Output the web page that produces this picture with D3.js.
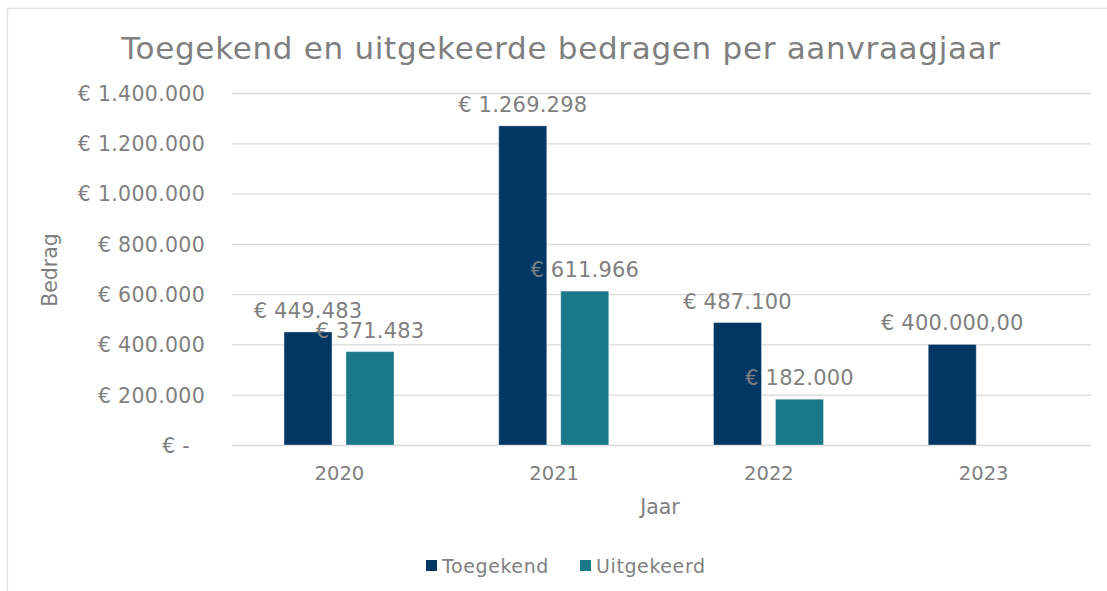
<!DOCTYPE html>
<html>
<head>
<meta charset="utf-8">
<script src="https://cdn.jsdelivr.net/npm/d3@7"></script>
<style>
  html, body { margin: 0; padding: 0; background: #fff; }
  svg { display: block; }
  text { font-family: "DejaVu Sans", Verdana, sans-serif; fill: #7f7f7f; }
</style>
</head>
<body>
<svg id="chart" width="1107" height="591"></svg>
<script>
const categories = ["2020", "2021", "2022", "2023"];
const seriesNames = ["Toegekend", "Uitgekeerd"];
const toegekend = [449483, 1269298, 487100, 400000];
const uitgekeerd = [371483, 611966, 182000, null];
const toegekendLabels = ["€ 449.483", "€ 1.269.298", "€ 487.100", "€ 400.000,00"];
const uitgekeerdLabels = ["€ 371.483", "€ 611.966", "€ 182.000", ""];
const yTicks = [0, 200000, 400000, 600000, 800000, 1000000, 1200000, 1400000];
const yTickLabels = ["€ -", "€ 200.000", "€ 400.000", "€ 600.000", "€ 800.000", "€ 1.000.000", "€ 1.200.000", "€ 1.400.000"];
const colors = ["#023764", "#1b788a"];

const svg = d3.select("#chart");

// chart border
svg.append("rect").attr("x", 7.5).attr("y", 8.5).attr("width", 1107).attr("height", 600)
  .attr("fill", "none").attr("stroke", "#e3e3e3").attr("stroke-width", 1.5);

const plot = { left: 232, right: 1091, top: 93, bottom: 445 };

const y = d3.scaleLinear().domain([0, 1400000]).range([plot.bottom, plot.top]);
const x = d3.scaleBand().domain(categories).range([plot.left, plot.right]).paddingInner(0).paddingOuter(0);
const xSub = d3.scaleBand().domain(seriesNames).range([52, 162]).paddingInner(14 / 62).paddingOuter(0);

// gridlines
svg.append("g")
  .attr("transform", `translate(${plot.left},0)`)
  .call(d3.axisLeft(y).tickValues(yTicks).tickSize(-(plot.right - plot.left)).tickFormat(""))
  .call(g => g.select(".domain").remove())
  .call(g => g.selectAll("line").attr("stroke", "#d9d9d9").attr("stroke-width", 1.3));

// y tick labels
const yAxis = svg.append("g")
  .attr("transform", `translate(205,0)`)
  .call(d3.axisLeft(y).tickValues(yTicks).tickSize(0).tickPadding(0)
    .tickFormat((d, i) => yTickLabels[i]));
yAxis.select(".domain").remove();
yAxis.selectAll("text")
  .style("font-family", '"DejaVu Sans", Verdana, sans-serif')
  .style("font-size", "20.5px")
  .style("letter-spacing", "0.3px")
  .attr("fill", "#828282")
  .attr("dx", d => d === 0 ? -15 : 0)
  .attr("dy", "0.36em");

// x tick labels
const xAxis = svg.append("g")
  .attr("transform", `translate(0,${plot.bottom})`)
  .call(d3.axisBottom(x).tickSize(0).tickPadding(0));
xAxis.select(".domain").remove();
xAxis.selectAll("text")
  .style("font-family", '"DejaVu Sans", Verdana, sans-serif')
  .style("font-size", "19.5px")
  .attr("fill", "#828282")
  .attr("y", 35).attr("dy", 0);

// bars
const series = [
  { name: seriesNames[0], values: toegekend, labels: toegekendLabels, color: colors[0] },
  { name: seriesNames[1], values: uitgekeerd, labels: uitgekeerdLabels, color: colors[1] }
];

series.forEach(s => {
  const data = categories.map((c, i) => ({ c, v: s.values[i], label: s.labels[i] })).filter(d => d.v != null);
  svg.append("g").selectAll("rect").data(data).join("rect")
    .attr("x", d => x(d.c) + xSub(s.name))
    .attr("y", d => y(d.v))
    .attr("width", xSub.bandwidth())
    .attr("height", d => y(0) - y(d.v))
    .attr("fill", s.color)
    .attr("stroke", "#ffffff").attr("stroke-opacity", 0.35).attr("stroke-width", 1);
  svg.append("g").selectAll("text").data(data).join("text")
    .attr("x", d => x(d.c) + xSub(s.name) + xSub.bandwidth() / 2)
    .attr("y", d => y(d.v) - 14)
    .attr("text-anchor", "middle")
    .style("font-size", "21px")
    .style("letter-spacing", "0.2px")
    .text(d => d.label);
});

// title
svg.append("text").attr("x", 561).attr("y", 59).attr("text-anchor", "middle")
  .style("font-size", "31px").style("letter-spacing", "0.7px").attr("fill", "#8a8a8a")
  .text("Toegekend en uitgekeerde bedragen per aanvraagjaar");

// axis titles
svg.append("text").attr("x", 660).attr("y", 514).attr("text-anchor", "middle")
  .style("font-size", "20.5px").text("Jaar");
svg.append("text").attr("transform", "translate(57,270) rotate(-90)").attr("text-anchor", "middle")
  .style("font-size", "20.5px").text("Bedrag");

// legend
const legend = svg.append("g");
const legendItems = [
  { name: seriesNames[0], color: colors[0], x: 426 },
  { name: seriesNames[1], color: colors[1], x: 580 }
];
legendItems.forEach(it => {
  legend.append("rect").attr("x", it.x).attr("y", 560).attr("width", 11).attr("height", 11).attr("fill", it.color);
  legend.append("text").attr("x", it.x + 16).attr("y", 573)
    .style("font-size", "19px").style("letter-spacing", "0.6px").text(it.name);
});
</script>
</body>
</html>
